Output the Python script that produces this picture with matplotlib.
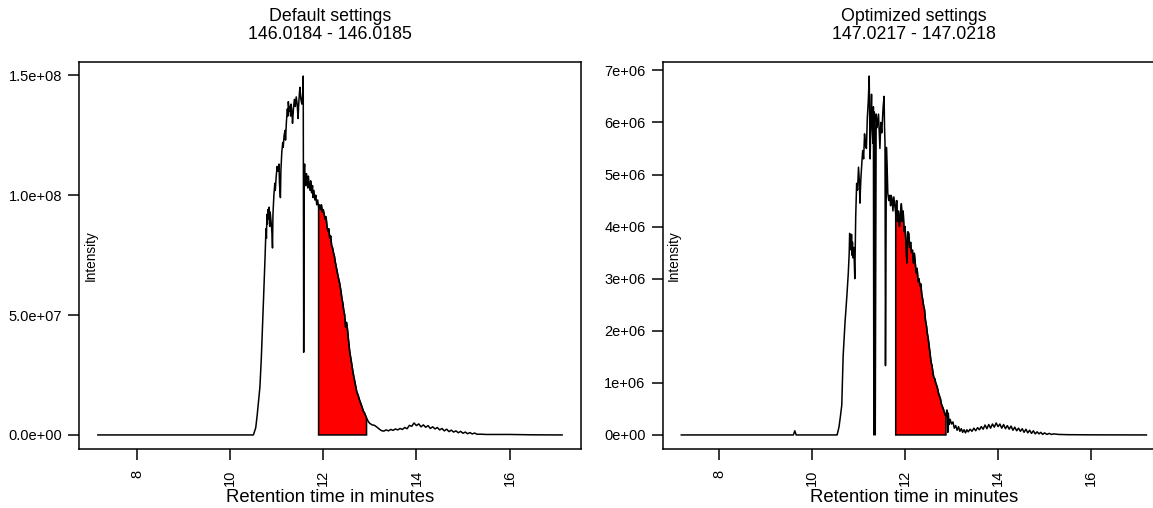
import matplotlib
matplotlib.use("Agg")
import matplotlib.pyplot as plt
import numpy as np

plt.rcParams['font.family'] = ['Liberation Sans', 'DejaVu Sans']

# ---------------- data: left panel (Default settings), intensity in 1e8 ----------------
left_title = "Default settings\n146.0184 - 146.0185"
left_time = [7.16, 10.50, 10.55, 10.58, 10.61, 10.64, 10.67, 10.70, 10.72, 10.75, 10.77, 10.78,
             10.79, 10.80, 10.81, 10.82, 10.84, 10.85, 10.86, 10.88, 10.90, 10.91, 10.92, 10.94,
             10.96, 10.97, 10.99, 11.01, 11.03, 11.05, 11.06, 11.08, 11.09, 11.11, 11.13, 11.14,
             11.16, 11.18, 11.19, 11.21, 11.23, 11.24, 11.25, 11.27, 11.28, 11.30, 11.31, 11.33,
             11.34, 11.36, 11.38, 11.40, 11.42, 11.44, 11.46, 11.47, 11.49, 11.50, 11.52, 11.54,
             11.56, 11.57, 11.58, 11.59, 11.60, 11.61, 11.62, 11.64, 11.65, 11.67, 11.68, 11.70,
             11.72, 11.73, 11.75, 11.77, 11.78, 11.80, 11.82, 11.84, 11.86, 11.88, 11.90, 11.92,
             11.94, 11.96, 11.98, 12.00, 12.02, 12.04, 12.06, 12.08, 12.10, 12.12, 12.14, 12.16,
             12.18, 12.20, 12.22, 12.24, 12.26, 12.28, 12.30, 12.32, 12.35, 12.38, 12.40, 12.42,
             12.44, 12.46, 12.48, 12.50, 12.52, 12.54, 12.57, 12.60, 12.64, 12.68, 12.72, 12.75,
             12.78, 12.82, 12.86, 12.89, 12.93, 12.97, 13.00, 13.05, 13.10, 13.15, 13.20, 13.25,
             13.30, 13.35, 13.40, 13.45, 13.50, 13.55, 13.60, 13.65, 13.70, 13.75, 13.80, 13.85,
             13.90, 13.95, 14.00, 14.05, 14.10, 14.15, 14.20, 14.25, 14.30, 14.35, 14.40, 14.45,
             14.50, 14.55, 14.60, 14.65, 14.70, 14.75, 14.80, 14.85, 14.90, 14.95, 15.00, 15.05,
             15.10, 15.15, 15.20, 15.25, 15.30, 15.40, 15.50, 16.00, 16.50, 17.13]
left_int = [0.0, 0.0, 0.03, 0.08, 0.14, 0.20, 0.32, 0.47, 0.58, 0.74, 0.86, 0.82,
            0.92, 0.88, 0.94, 0.90, 0.95, 0.87, 0.93, 0.89, 0.84, 0.78, 0.92, 1.00,
            1.05, 1.02, 1.08, 1.12, 1.10, 1.13, 1.05, 0.99, 1.10, 1.18, 1.22, 1.20,
            1.25, 1.27, 1.23, 1.31, 1.36, 1.33, 1.39, 1.35, 1.37, 1.33, 1.38, 1.34,
            1.30, 1.36, 1.40, 1.37, 1.41, 1.38, 1.32, 1.37, 1.43, 1.45, 1.40, 1.38,
            1.42, 1.497, 0.345, 1.10, 1.13, 1.07, 1.04, 1.09, 1.05, 1.03, 1.08, 1.04,
            1.02, 1.06, 1.01, 1.04, 0.99, 1.02, 0.98, 1.00, 0.96, 0.98, 0.95, 0.96,
            0.94, 0.96, 0.93, 0.94, 0.92, 0.90, 0.91, 0.87, 0.85, 0.86, 0.82, 0.83,
            0.79, 0.78, 0.76, 0.745, 0.72, 0.70, 0.68, 0.66, 0.635, 0.60, 0.57, 0.55,
            0.52, 0.50, 0.45, 0.47, 0.44, 0.40, 0.345, 0.31, 0.26, 0.22, 0.18, 0.165,
            0.145, 0.124, 0.10, 0.09, 0.07, 0.055, 0.048, 0.042, 0.040, 0.033, 0.025, 0.018,
            0.016, 0.021, 0.017, 0.023, 0.019, 0.025, 0.021, 0.027, 0.023, 0.031, 0.026, 0.040,
            0.036, 0.050, 0.039, 0.046, 0.034, 0.042, 0.032, 0.039, 0.027, 0.034, 0.025, 0.031,
            0.021, 0.027, 0.017, 0.024, 0.014, 0.020, 0.012, 0.017, 0.009, 0.015, 0.007, 0.012,
            0.005, 0.010, 0.004, 0.008, 0.003, 0.003, 0.002, 0.002, 0.0005, 0.0]
left_scale = 1e8
left_fill = (11.90, 12.93)
left_yticks = [0, 0.5e8, 1.0e8, 1.5e8]
left_yticklabels = ["0.0e+00", "5.0e+07", "1.0e+08", "1.5e+08"]

# ---------------- data: right panel (Optimized settings), intensity in 1e6 ----------------
right_title = "Optimized settings\n147.0217 - 147.0218"
right_time = [7.19, 9.60, 9.63, 9.66, 10.54, 10.58, 10.61, 10.64, 10.67, 10.71, 10.75, 10.78,
              10.80, 10.81, 10.82, 10.83, 10.84, 10.85, 10.86, 10.87, 10.88, 10.90, 10.92, 10.94,
              10.96, 10.98, 11.00, 11.02, 11.03, 11.05, 11.07, 11.09, 11.11, 11.13, 11.15, 11.17,
              11.19, 11.21, 11.23, 11.24, 11.25, 11.27, 11.28, 11.29, 11.31, 11.32, 11.33, 11.34,
              11.35, 11.36, 11.38, 11.40, 11.43, 11.45, 11.46, 11.48, 11.50, 11.53, 11.55, 11.56,
              11.57, 11.58, 11.60, 11.62, 11.63, 11.65, 11.67, 11.69, 11.70, 11.72, 11.74, 11.76,
              11.78, 11.80, 11.82, 11.84, 11.86, 11.88, 11.90, 11.92, 11.94, 11.96, 11.98, 12.00,
              12.02, 12.04, 12.06, 12.08, 12.10, 12.12, 12.14, 12.16, 12.18, 12.20, 12.22, 12.24,
              12.26, 12.28, 12.30, 12.32, 12.34, 12.36, 12.38, 12.40, 12.42, 12.44, 12.46, 12.48,
              12.50, 12.52, 12.54, 12.56, 12.58, 12.60, 12.62, 12.64, 12.66, 12.68, 12.70, 12.72,
              12.74, 12.76, 12.78, 12.80, 12.82, 12.84, 12.86, 12.88, 12.90, 12.92, 12.93, 12.95,
              12.97, 13.00, 13.03, 13.06, 13.09, 13.12, 13.15, 13.18, 13.21, 13.24, 13.27, 13.30,
              13.33, 13.36, 13.40, 13.44, 13.48, 13.52, 13.56, 13.60, 13.64, 13.68, 13.72, 13.76,
              13.80, 13.84, 13.88, 13.92, 13.96, 14.00, 14.04, 14.08, 14.12, 14.16, 14.20, 14.24,
              14.28, 14.32, 14.36, 14.40, 14.44, 14.48, 14.52, 14.56, 14.60, 14.64, 14.68, 14.72,
              14.76, 14.80, 14.84, 14.88, 14.92, 14.96, 15.00, 15.05, 15.10, 15.15, 15.20, 15.30,
              15.50, 16.00, 17.19]
right_int = [0.0, 0.0, 0.08, 0.0, 0.0, 0.15, 0.35, 0.57, 1.52, 2.16, 2.67, 3.10,
             3.49, 3.87, 3.60, 3.80, 3.55, 3.85, 3.45, 3.70, 3.40, 3.60, 3.00, 4.20,
             4.83, 4.70, 5.14, 4.85, 4.45, 4.90, 5.20, 5.46, 5.30, 5.78, 5.55, 5.50,
             6.10, 6.40, 6.89, 6.00, 5.30, 6.20, 6.54, 6.00, 5.60, 6.30, 0.0, 6.20,
             5.50, 0.0, 6.16, 5.90, 6.16, 5.70, 5.50, 6.00, 5.80, 6.30, 6.50, 5.90,
             5.60, 1.33, 5.52, 5.00, 4.64, 4.50, 4.60, 4.40, 4.60, 4.55, 4.30, 4.57,
             4.40, 4.25, 4.50, 4.10, 4.30, 4.00, 4.20, 4.44, 4.10, 4.30, 3.90, 4.00,
             3.70, 3.30, 3.90, 3.87, 3.60, 3.70, 3.50, 3.55, 3.30, 3.49, 3.30, 3.11,
             3.20, 2.95, 3.00, 2.86, 2.90, 2.70, 2.60, 2.48, 2.40, 2.20, 2.10, 1.95,
             1.84, 1.70, 1.55, 1.40, 1.33, 1.20, 1.10, 1.08, 1.00, 0.95, 0.89, 0.80,
             0.75, 0.70, 0.60, 0.55, 0.51, 0.45, 0.40, 0.35, 0.48, 0.05, 0.42, 0.20,
             0.30, 0.21, 0.25, 0.13, 0.18, 0.09, 0.16, 0.07, 0.12, 0.05, 0.10, 0.04,
             0.10, 0.06, 0.11, 0.07, 0.13, 0.08, 0.14, 0.10, 0.16, 0.11, 0.19, 0.12,
             0.20, 0.13, 0.21, 0.15, 0.23, 0.16, 0.21, 0.13, 0.20, 0.12, 0.18, 0.11,
             0.17, 0.09, 0.15, 0.08, 0.13, 0.07, 0.12, 0.05, 0.11, 0.04, 0.09, 0.03,
             0.08, 0.02, 0.06, 0.02, 0.05, 0.01, 0.04, 0.01, 0.03, 0.01, 0.02, 0.01,
             0.005, 0.002, 0.0]
right_scale = 1e6
right_fill = (11.80, 12.88)
right_yticks = [0, 1e6, 2e6, 3e6, 4e6, 5e6, 6e6, 7e6]
right_yticklabels = ["0e+00", "1e+06", "2e+06", "3e+06", "4e+06", "5e+06", "6e+06", "7e+06"]

xticks = [8, 10, 12, 14, 16]
xlabel = "Retention time in minutes"
ylabel = "Intensity"

W, H = 1153, 508
fig = plt.figure(figsize=(W / 100, H / 100), dpi=100)

def px_axes(x0, x1, ytop, ybot):
    return [x0 / W, 1 - ybot / H, (x1 - x0) / W, (ybot - ytop) / H]

panels = [
    (px_axes(79.3, 580.7, 61.7, 449.3), left_title, left_time, left_int, left_scale, left_fill,
     left_yticks, left_yticklabels),
    (px_axes(662.7, 1165.0, 61.7, 449.3), right_title, right_time, right_int, right_scale, right_fill,
     right_yticks, right_yticklabels),
]

for rect, title, t, v, scale, fill, yt, ytl in panels:
    ax = fig.add_axes(rect)
    t = np.asarray(t, dtype=float)
    y = np.asarray(v, dtype=float) * scale
    # red integrated area with black border
    m = (t >= fill[0]) & (t <= fill[1])
    px = np.concatenate([[t[m][0]], t[m], [t[m][-1]]])
    py = np.concatenate([[0.0], y[m], [0.0]])
    ax.fill(px, py, facecolor="#ff0000", edgecolor="black", linewidth=1.1, zorder=2)
    ax.plot(t, y, color="black", linewidth=1.1, zorder=3)
    xr = t.max() - t.min()
    ax.set_xlim(t.min() - 0.04 * xr, t.max() + 0.04 * xr)
    yr = y.max()
    ax.set_ylim(-0.04 * yr, 1.04 * yr)
    ax.set_xticks(xticks)
    ax.set_xticklabels([str(x) for x in xticks], rotation=90, fontsize=10.5)
    ax.set_yticks(yt)
    ax.set_yticklabels(ytl, fontsize=10.5)
    ax.tick_params(axis="x", length=8, width=1.1, pad=6.5)
    ax.tick_params(axis="y", length=8, width=1.1, pad=4.3)
    for s in ax.spines.values():
        s.set_linewidth(1.1)
    ax.set_xlabel(xlabel, fontsize=13.3, labelpad=2)
    ax.text(0.0227, 0.5, ylabel, transform=ax.transAxes, rotation=90, ha="center", va="center",
            fontsize=9.8)
    ax.set_title(title, fontsize=12.8, pad=16, linespacing=1.15)

fig.savefig("out.png", dpi=100)
